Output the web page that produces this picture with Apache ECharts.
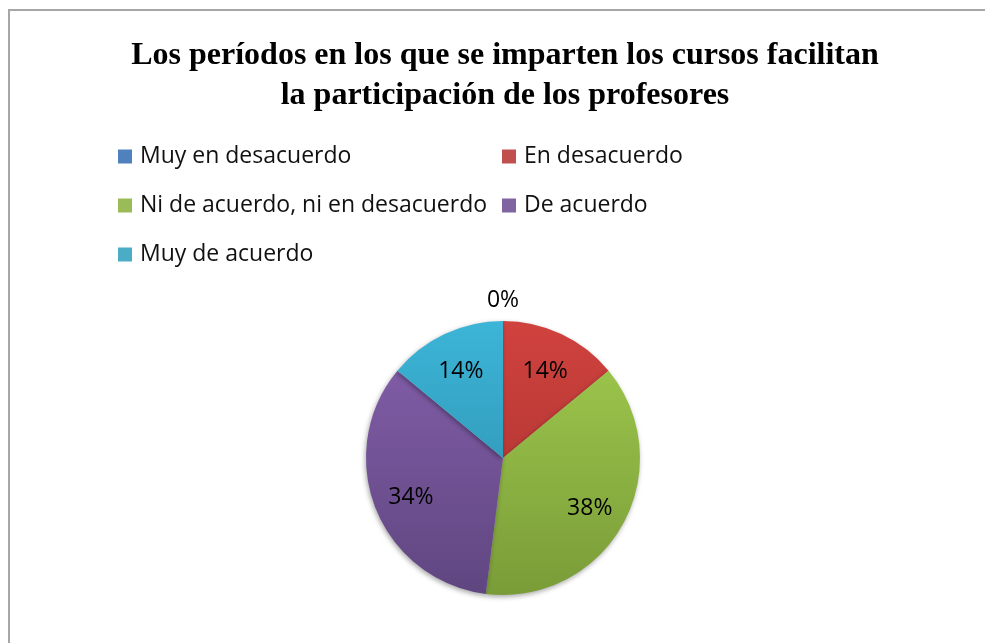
<!DOCTYPE html>
<html>
<head>
<meta charset="utf-8">
<script src="https://cdn.jsdelivr.net/npm/echarts@6/dist/echarts.min.js"></script>
<style>
  html, body { margin: 0; padding: 0; background: #fff; }
</style>
</head>
<body>
<div id="pieChart" style="width: 985px; height: 643px;"></div>
<script>
  var titleText = 'Los períodos en los que se imparten los cursos facilitan\nla participación de los profesores'
  var categories = ['Muy en desacuerdo', 'En desacuerdo', 'Ni de acuerdo, ni en desacuerdo', 'De acuerdo', 'Muy de acuerdo']
  var values = [0, 14, 38, 34, 14]
  // flat colours for the legend, top/bottom shades for the pie gradient
  var baseColors = ['#4F81BD', '#C0504D', '#9BBB59', '#8064A2', '#4BACC6']
  var topColors = ['#5a8fd0', '#d0423e', '#a1cc4f', '#8660ad', '#3cb5d7']
  var bottomColors = ['#3f6fa8', '#a3302d', '#7a9c38', '#5f4680', '#2a88a6']

  var cx = 503
  var cy = 458
  var r = 137

  function grad (i) {
    return new echarts.graphic.LinearGradient(0, cy - r, 0, cy + r, [
      { offset: 0, color: topColors[i] },
      { offset: 1, color: bottomColors[i] }
    ], true)
  }

  var labelFont = { fontFamily: 'Open Sans', fontSize: 23, color: '#000' }

  var pieData = categories.map(function (name, i) {
    return { name: name, value: values[i], itemStyle: { color: grad(i) } }
  })

  // label rings: non-zero slices get their label inside, the zero slice above the pie
  function ringData (showZero) {
    return categories.map(function (name, i) {
      return { name: name, value: values[i], label: { show: (values[i] === 0) === showZero } }
    })
  }

  function legendItems (idx) {
    return idx.map(function (i) {
      return { name: categories[i], itemStyle: { color: baseColors[i] } }
    })
  }

  var legendBase = {
    orient: 'vertical',
    top: 145,
    padding: 0,
    itemWidth: 14,
    itemHeight: 14,
    itemGap: 26,
    icon: 'rect',
    selectedMode: false,
    textStyle: { fontFamily: 'Open Sans', fontSize: 23, color: '#111', lineHeight: 22, padding: [0, 0, 0, 3] }
  }

  function labelRing (radius, showZero) {
    return {
      type: 'pie',
      center: [cx, cy + 3],
      radius: radius,
      startAngle: 90,
      clockwise: true,
      silent: true,
      avoidLabelOverlap: false,
      emphasis: { disabled: true },
      itemStyle: { color: 'rgba(0,0,0,0)' },
      label: Object.assign({ position: 'inside', formatter: '{d}%' }, labelFont),
      labelLine: { show: false },
      data: ringData(showZero)
    }
  }

  var chart = echarts.init(document.getElementById('pieChart'))
  var option = {
    backgroundColor: '#fff',
    animation: false,
    graphic: [{
      type: 'rect',
      shape: { x: 9, y: 10, width: 1000, height: 700 },
      style: { fill: 'none', stroke: '#a6a6a6', lineWidth: 2 },
      silent: true
    }],
    title: {
      text: titleText,
      left: cx - 3,
      textAlign: 'center',
      top: 31,
      textStyle: {
        fontFamily: 'Liberation Serif',
        fontWeight: 'bold',
        fontSize: 32,
        lineHeight: 40,
        color: '#000'
      }
    },
    legend: [
      Object.assign({ left: 118, data: legendItems([0, 2, 4]) }, legendBase),
      Object.assign({ left: 502, data: legendItems([1, 3]) }, legendBase)
    ],
    series: [{
      name: 'pie',
      type: 'pie',
      center: [cx, cy],
      radius: r,
      startAngle: 90,
      clockwise: true,
      emphasis: { disabled: true },
      label: { show: false },
      labelLine: { show: false },
      itemStyle: {
        shadowBlur: 5,
        shadowOffsetX: -1,
        shadowOffsetY: 2,
        shadowColor: 'rgba(0,0,0,0.35)'
      },
      data: pieData
    },
    labelRing(192, false),
    labelRing([148, 168], true)]
  }
  chart.setOption(option)
</script>
</body>
</html>
